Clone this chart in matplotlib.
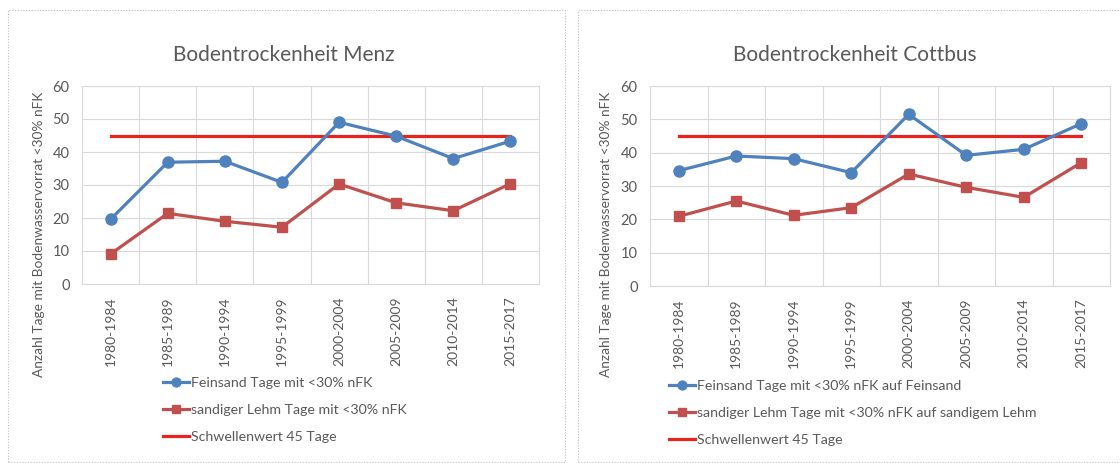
import matplotlib
matplotlib.use("Agg")
import matplotlib.pyplot as plt
from matplotlib.patches import Rectangle

plt.rcParams['font.family'] = ['Lato', 'DejaVu Sans']

categories = ["1980-1984", "1985-1989", "1990-1994", "1995-1999",
              "2000-2004", "2005-2009", "2010-2014", "2015-2017"]
menz_feinsand = [19.6, 36.9, 37.2, 30.8, 49.0, 44.8, 38.0, 43.3]
menz_lehm = [9.1, 21.4, 19.0, 17.2, 30.3, 24.6, 22.2, 30.4]
cottbus_feinsand = [34.6, 39.0, 38.2, 34.0, 51.5, 39.2, 41.0, 48.7]
cottbus_lehm = [20.9, 25.5, 21.2, 23.5, 33.6, 29.6, 26.6, 37.0]
threshold = 45
yticks = [0, 10, 20, 30, 40, 50, 60]

titles = ["Bodentrockenheit Menz", "Bodentrockenheit Cottbus"]
legend_labels = [
    ["Feinsand Tage mit <30% nFK", "sandiger Lehm Tage mit <30% nFK", "Schwellenwert 45 Tage"],
    ["Feinsand Tage mit <30% nFK auf Feinsand",
     "sandiger Lehm Tage mit <30% nFK auf sandigem Lehm", "Schwellenwert 45 Tage"],
]
ylabel = "Anzahl Tage mit Bodenwasservorrat <30% nFK"

W, H = 1120, 463
fig = plt.figure(figsize=(W / 100, H / 100), dpi=100)
fig.patch.set_facecolor("white")

BLUE = "#4F81BD"
RED = "#C0504D"
THR = "#E8221C"
TXT = "#595959"
GRID = "#D9D9D9"

def fx(px):
    return px / W

def fy(py):
    return 1 - py / H

# panel borders
for x0, x1 in [(8, 565), (578, 1135)]:
    fig.patches.append(Rectangle((fx(x0), fy(462)), fx(x1 - x0), (462 - 10) / H,
                                 transform=fig.transFigure, fill=False,
                                 edgecolor="#BFBFBF", lw=0.8, ls=(0, (1, 1.5))))

panels = [
    dict(ax=(82, 86, 539, 284), title_x=284, ylab_x=39, leg=(163, 377),
         data=(menz_feinsand, menz_lehm)),
    dict(ax=(650, 86, 1110, 286), title_x=855, ylab_x=606, leg=(669, 380),
         data=(cottbus_feinsand, cottbus_lehm)),
]

x = list(range(len(categories)))
for i, p in enumerate(panels):
    l, t, r, b = p["ax"]
    ax = fig.add_axes([fx(l), fy(b), fx(r - l), (b - t) / H])
    ax.set_xlim(-0.5, len(categories) - 0.5)
    ax.set_ylim(0, 60)
    ax.set_yticks(yticks)
    ax.set_xticks(x)
    ax.set_xticklabels(categories, rotation=90, fontsize=10, color=TXT)
    ax.tick_params(axis="y", labelsize=10.5, labelcolor=TXT, length=0, pad=9)
    ax.tick_params(axis="x", length=0, pad=9)
    ax.set_xticks([k + 0.5 for k in x[:-1]], minor=True)
    ax.tick_params(axis="x", which="minor", length=0)
    ax.grid(True, axis="y", which="major", color=GRID, lw=0.8)
    ax.grid(True, axis="x", which="minor", color=GRID, lw=0.8)
    ax.set_axisbelow(True)
    for s in ax.spines.values():
        s.set_color(GRID)
        s.set_linewidth(0.8)

    fs, lh = p["data"]
    h1, = ax.plot(x, fs, color=BLUE, lw=2.3, marker="o", ms=8, zorder=4)
    h2, = ax.plot(x, lh, color=RED, lw=2.3, marker="s", ms=7.5, zorder=4)
    h3, = ax.plot([x[0], x[-1]], [threshold, threshold], color=THR, lw=2.3, zorder=3)

    fig.text(fx(p["title_x"]), fy(55), titles[i], ha="center", va="center",
             fontsize=15, color=TXT)
    fig.text(fx(p["ylab_x"]), fy(234), ylabel, rotation=90, ha="center",
             va="center", fontsize=9.9, color=TXT)

    lx, ly = p["leg"]
    fig.legend([h1, h2, h3], legend_labels[i], loc="upper left",
               bbox_to_anchor=(fx(lx), fy(ly)), frameon=False,
               fontsize=10.2, labelcolor=TXT, handlelength=1.85,
               handletextpad=0.14, labelspacing=1.05, borderpad=0,
               borderaxespad=0, markerscale=0.8)

fig.savefig("out.png", dpi=100)
